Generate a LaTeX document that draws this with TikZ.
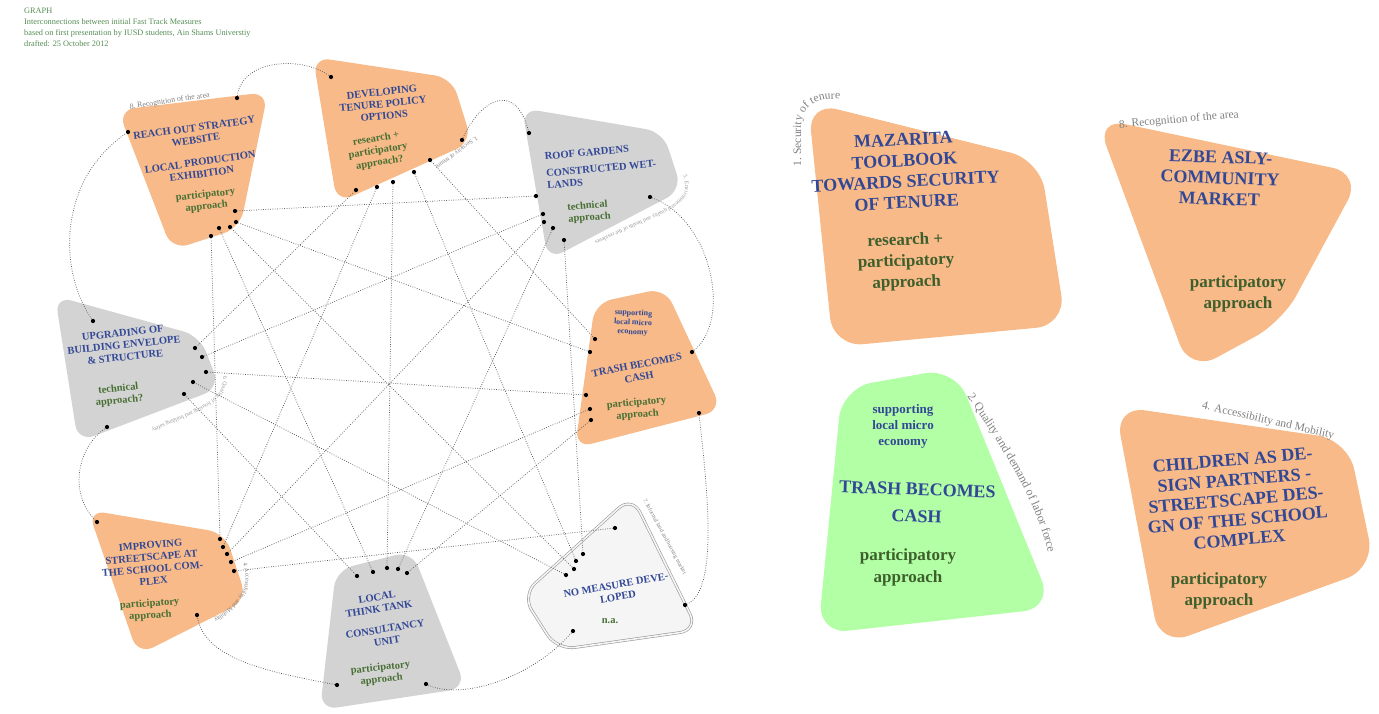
\documentclass[tikz,border=0pt]{standalone}
\usepackage{fontspec}
\setmainfont{Liberation Serif}
\usetikzlibrary{decorations.text}
\definecolor{blobor}{RGB}{247,186,136}
\definecolor{blobgr}{RGB}{211,211,211}
\definecolor{blobgn}{RGB}{178,255,166}
\definecolor{blobwh}{RGB}{245,245,245}
\definecolor{tblue}{RGB}{50,72,150}
\definecolor{tgreen}{RGB}{72,112,52}
\definecolor{hgreen}{RGB}{84,140,84}
\definecolor{lgray}{RGB}{128,128,128}
\begin{document}
\begin{tikzpicture}[x=1pt,y=-1pt,
 bt/.style={text=tblue,font=\fontsize{10.5}{12}\selectfont\bfseries,align=center,inner sep=0pt},
 gt/.style={text=tgreen,font=\fontsize{10.5}{12}\selectfont\bfseries,align=center,inner sep=0pt},
 bbt/.style={text=tblue,font=\fontsize{18}{21}\selectfont\bfseries,align=center,inner sep=0pt},
 bgt/.style={text=tgreen!85!black,font=\fontsize{17}{21}\selectfont\bfseries,align=center,inner sep=0pt},
 hdr/.style={text=hgreen,font=\fontsize{8.3}{9}\selectfont,inner sep=0pt,anchor=base west},
 dot/.style={circle,fill=black,inner sep=0pt,minimum size=4.2pt},
 conn/.style={draw=black!65,line width=0.75pt,dash pattern=on 0.75pt off 1.6pt},
 smallblob/.style={rounded corners=17pt},
 bigblob/.style={rounded corners=30pt},
]
\useasboundingbox (0,0) rectangle (1379,713);

% header
\node[hdr] (h1) at (24,13) {GRAPH};
\node[hdr] (h2) at (24,24) {Interconnections between initial Fast Track Measures};
\node[hdr] (h3) at (24,35) {based on first presentation by IUSD students, Ain Shams Universtiy};
\node[hdr] (h4) at (24,46) {drafted: 25 October 2012};

% small blobs
\fill[blobor,smallblob] (118,110) -- (268,92) -- (240,228) -- (172,250) -- cycle;
\fill[blobor,smallblob] (313,57) -- (452,78) -- (472,142) -- (337,203) -- cycle;
\fill[blobgr,smallblob] (522,108) -- (663,132) -- (682,190) -- (548,260) -- cycle;
\fill[blobgr,smallblob] (55,296) -- (200,336) -- (220,388) -- (78,442) -- cycle;
\fill[blobor,smallblob] (595,303) -- (665,288) -- (722,410) -- (575,448) -- cycle;
\fill[blobor,smallblob] (88,510) -- (225,533) -- (247,600) -- (138,655) -- cycle;
\fill[blobgr,smallblob] (336,570) -- (412,551) -- (466,688) -- (320,710) -- cycle;
\path[draw=black!40,line width=0.6pt,double=blobwh,double distance=1.6pt,fill=blobwh,rounded corners=18pt]
  (632,496) -- (698,630) -- (557,650) -- (522,595) -- cycle;

% big blobs
\fill[blobor,bigblob] (808,102) -- (1040,160) -- (1066,325) -- (833,347) -- cycle;
\fill[blobor,bigblob] (1096,118) -- (1362,174) -- (1282,322) -- (1190,372) -- cycle;
\fill[blobgn,bigblob] (842,388) -- (955,368) -- (1053,608) -- (818,634) -- cycle;
\fill[blobor,bigblob] (1115,406) -- (1348,440) -- (1375,568) -- (1160,646) -- cycle;

% edge labels
\path[decorate,decoration={text along path,text color=lgray,text={|\fontsize{7.8}{8}\selectfont|8. Recognition of the area}}] (130,109) -- (224,95);
\path[decorate,decoration={text along path,text color=lgray,text={|\fontsize{6.2}{7}\selectfont|1. Security of tenure}}] (476,136) -- (428,172);
\path[decorate,decoration={text along path,text color=lgray!80,text={|\fontsize{5.8}{7}\selectfont|5. Environmental quality and health of the residents}}] (683,176) .. controls (690,195) and (680,202) .. (660,212) -- (548,262);
\path[decorate,decoration={text along path,text color=lgray!80,text={|\fontsize{5.8}{7}\selectfont|6. Quality of housing and building safety}}] (223,376) .. controls (225,392) and (215,400) .. (195,410) -- (115,445);
\path[decorate,decoration={text along path,text color=lgray,text={|\fontsize{6}{7}\selectfont|4. Accessibility and Mobility}}] (243,563) .. controls (252,590) and (238,606) .. (200,628);
\path[decorate,decoration={text along path,text color=lgray,text={|\fontsize{5.8}{7}\selectfont|7. Informal land and housing market}}] (643,500) -- (692,590);
\path[decorate,decoration={text along path,text color=lgray,text={|\fontsize{11.5}{12}\selectfont|1. Security of tenure}}] (801,166) -- (801,128) .. controls (801,108) and (814,99) .. (835,99) -- (890,104);
\path[decorate,decoration={text along path,text color=lgray,text={|\fontsize{12}{12}\selectfont|2. Quality and demand of labor force}}] (967,396) .. controls (1000,445) and (1045,510) .. (1052,575);
\node[text=lgray,font=\fontsize{11.5}{12}\selectfont,inner sep=0pt,rotate=5] (lb8) at (1179,120) {8. Recognition of the area};
\node[text=lgray,font=\fontsize{11.5}{12}\selectfont,inner sep=0pt,rotate=-13] (lb4) at (1268,421) {4. Accessibility and Mobility};

% small blob texts
\node[bt,rotate=8] (t1a) at (195,134) {REACH OUT STRATEGY\\WEBSITE};
\node[bt,rotate=8] (t1b) at (201,168) {LOCAL PRODUCTION\\EXHIBITION};
\node[gt,rotate=6] (t1c) at (206,201) {participatory\\approach};

\node[bt,rotate=6] (t2a) at (383,104) {DEVELOPING\\TENURE POLICY\\OPTIONS};
\node[gt,rotate=9] (t2b) at (378,151) {research +\\participatory\\approach?};

\node[bt,rotate=5,align=left] (t3a) at (601,166) {ROOF GARDENS\\[5pt]CONSTRUCTED WET-\\LANDS};
\node[gt,rotate=5,align=left] (t3b) at (589,212) {technical\\approach};

\node[bt,rotate=6] (t4a) at (124,345) {UPGRADING OF\\BUILDING ENVELOPE\\\&\ STRUCTURE};
\node[gt,rotate=6] (t4b) at (119,395) {technical\\approach?};

\node[bt,font=\fontsize{8}{9.5}\selectfont\bfseries,rotate=-3] (t5a) at (633,323) {supporting\\local micro\\economy};
\node[bt,rotate=11] (t5b) at (638,371) {TRASH BECOMES\\CASH};
\node[gt,rotate=5] (t5c) at (637,409) {participatory\\approach};

\node[bt,rotate=5] (t6a) at (152,563) {IMPROVING\\STREETSCAPE AT\\THE SCHOOL COM-\\PLEX};
\node[gt,rotate=4] (t6b) at (150,610) {participatory\\approach};

\node[bt,rotate=9] (t7a) at (378,603) {LOCAL\\THINK TANK};
\node[bt,rotate=9] (t7b) at (386,635) {CONSULTANCY\\UNIT};
\node[gt,rotate=6] (t7c) at (381,674) {participatory\\approach};

\node[bt,rotate=10] (t8a) at (617,591) {NO MEASURE DEVE-\\LOPED};
\node[gt] (t8b) at (610,621) {n.a.};

% big blob texts
\node[bbt,rotate=3] (tAa) at (905,171) {MAZARITA\\TOOLBOOK\\TOWARDS SECURITY\\OF TENURE};
\node[bgt,rotate=2] (tAb) at (906,262) {research +\\participatory\\approach};
\node[bbt,rotate=-2] (tBa) at (1220,178) {EZBE ASLY-\\COMMUNITY\\MARKET};
\node[bgt] (tBb) at (1238,294) {participatory\\approach};
\node[bt,font=\fontsize{13}{16}\selectfont\bfseries] (tCa) at (903,426) {supporting\\local micro\\economy};
\node[bbt,font=\fontsize{18}{27}\selectfont\bfseries,rotate=-2] (tCb) at (917,503) {TRASH BECOMES\\CASH};
\node[bgt,font=\fontsize{17}{22}\selectfont\bfseries] (tCc) at (908,567) {participatory\\approach};
\node[bbt,font=\fontsize{18}{20}\selectfont\bfseries,rotate=5] (tDa) at (1236,500) {CHILDREN AS DE-\\SIGN PARTNERS -\\STREETSCAPE DES-\\GN OF THE SCHOOL\\COMPLEX};
\node[bgt] (tDb) at (1219,591) {participatory\\approach};

% dots
\node[dot] (a1) at (237,98) {};  \node[dot] (a2) at (128,132) {};
\node[dot] (a3) at (235,211) {}; \node[dot] (a4) at (236,222) {};
\node[dot] (a5) at (230,227) {}; \node[dot] (a6) at (219,228) {};
\node[dot] (a7) at (211,236) {};
\node[dot] (b1) at (331,77) {};  \node[dot] (b2) at (462,140) {};
\node[dot] (b3) at (430,160) {}; \node[dot] (b4) at (414,172) {};
\node[dot] (b5) at (393,182) {}; \node[dot] (b6) at (377,187) {};
\node[dot] (b7) at (356,190) {};
\node[dot] (c1) at (529,133) {}; \node[dot] (c2) at (650,197) {};
\node[dot] (c3) at (536,196) {}; \node[dot] (c4) at (543,214) {};
\node[dot] (c5) at (544,222) {}; \node[dot] (c6) at (553,228) {};
\node[dot] (c7) at (564,240) {};
\node[dot] (d1) at (93,321) {};  \node[dot] (d2) at (107,427) {};
\node[dot] (d3) at (195,348) {}; \node[dot] (d4) at (202,357) {};
\node[dot] (d5) at (206,372) {}; \node[dot] (d6) at (193,382) {};
\node[dot] (d7) at (184,394) {};
\node[dot] (e1) at (692,352) {}; \node[dot] (e2) at (699,413) {};
\node[dot] (e3) at (595,339) {}; \node[dot] (e4) at (590,352) {};
\node[dot] (e5) at (586,395) {}; \node[dot] (e6) at (590,409) {};
\node[dot] (e7) at (591,420) {};
\node[dot] (f1) at (97,522) {};  \node[dot] (f2) at (197,615) {};
\node[dot] (f3) at (220,539) {}; \node[dot] (f4) at (223,547) {};
\node[dot] (f5) at (227,554) {}; \node[dot] (f6) at (231,562) {};
\node[dot] (f7) at (234,571) {};
\node[dot] (g1) at (337,685) {}; \node[dot] (g2) at (426,684) {};
\node[dot] (g3) at (357,576) {}; \node[dot] (g4) at (373,572) {};
\node[dot] (g5) at (387,568) {}; \node[dot] (g6) at (398,569) {};
\node[dot] (g7) at (407,573) {};
\node[dot] (h1d) at (685,605) {}; \node[dot] (h2d) at (573,631) {};
\node[dot] (h3d) at (615,528) {}; \node[dot] (h4d) at (583,554) {};
\node[dot] (h5d) at (576,561) {}; \node[dot] (h6d) at (574,569) {};
\node[dot] (h7d) at (566,575) {};

% outer ring curves
\draw[conn] (a1) .. controls (242,60) and (300,55) .. (b1);
\draw[conn] (b2) .. controls (480,100) and (515,80) .. (c1);
\draw[conn] (c2) .. controls (712,220) and (732,320) .. (e1);
\draw[conn] (e2) .. controls (706,480) and (720,590) .. (h1d);
\draw[conn] (h2d) .. controls (530,680) and (460,700) .. (g2);
\draw[conn] (g1) .. controls (270,672) and (205,660) .. (f2);
\draw[conn] (f1) .. controls (70,495) and (75,450) .. (d2);
\draw[conn] (d1) .. controls (58,270) and (58,180) .. (a2);

% chords
\draw[conn] (a3) -- (c3);
\draw[conn] (a4) -- (e4);
\draw[conn] (a5) -- (h6d);
\draw[conn] (a6) -- (g4);
\draw[conn] (a7) -- (f3);
\draw[conn] (b3) -- (e3);
\draw[conn] (b4) -- (h5d);
\draw[conn] (b5) -- (g5);
\draw[conn] (b6) -- (f4);
\draw[conn] (b7) -- (d3);
\draw[conn] (c4) -- (d4);
\draw[conn] (c5) -- (f5);
\draw[conn] (c6) -- (g6);
\draw[conn] (c7) -- (h4d);
\draw[conn] (e5) -- (d5);
\draw[conn] (e6) -- (f6);
\draw[conn] (e7) -- (g7);
\draw[conn] (h3d) -- (f7);
\draw[conn] (h7d) -- (d6);
\draw[conn] (g3) -- (d7);
\end{tikzpicture}
\end{document}
